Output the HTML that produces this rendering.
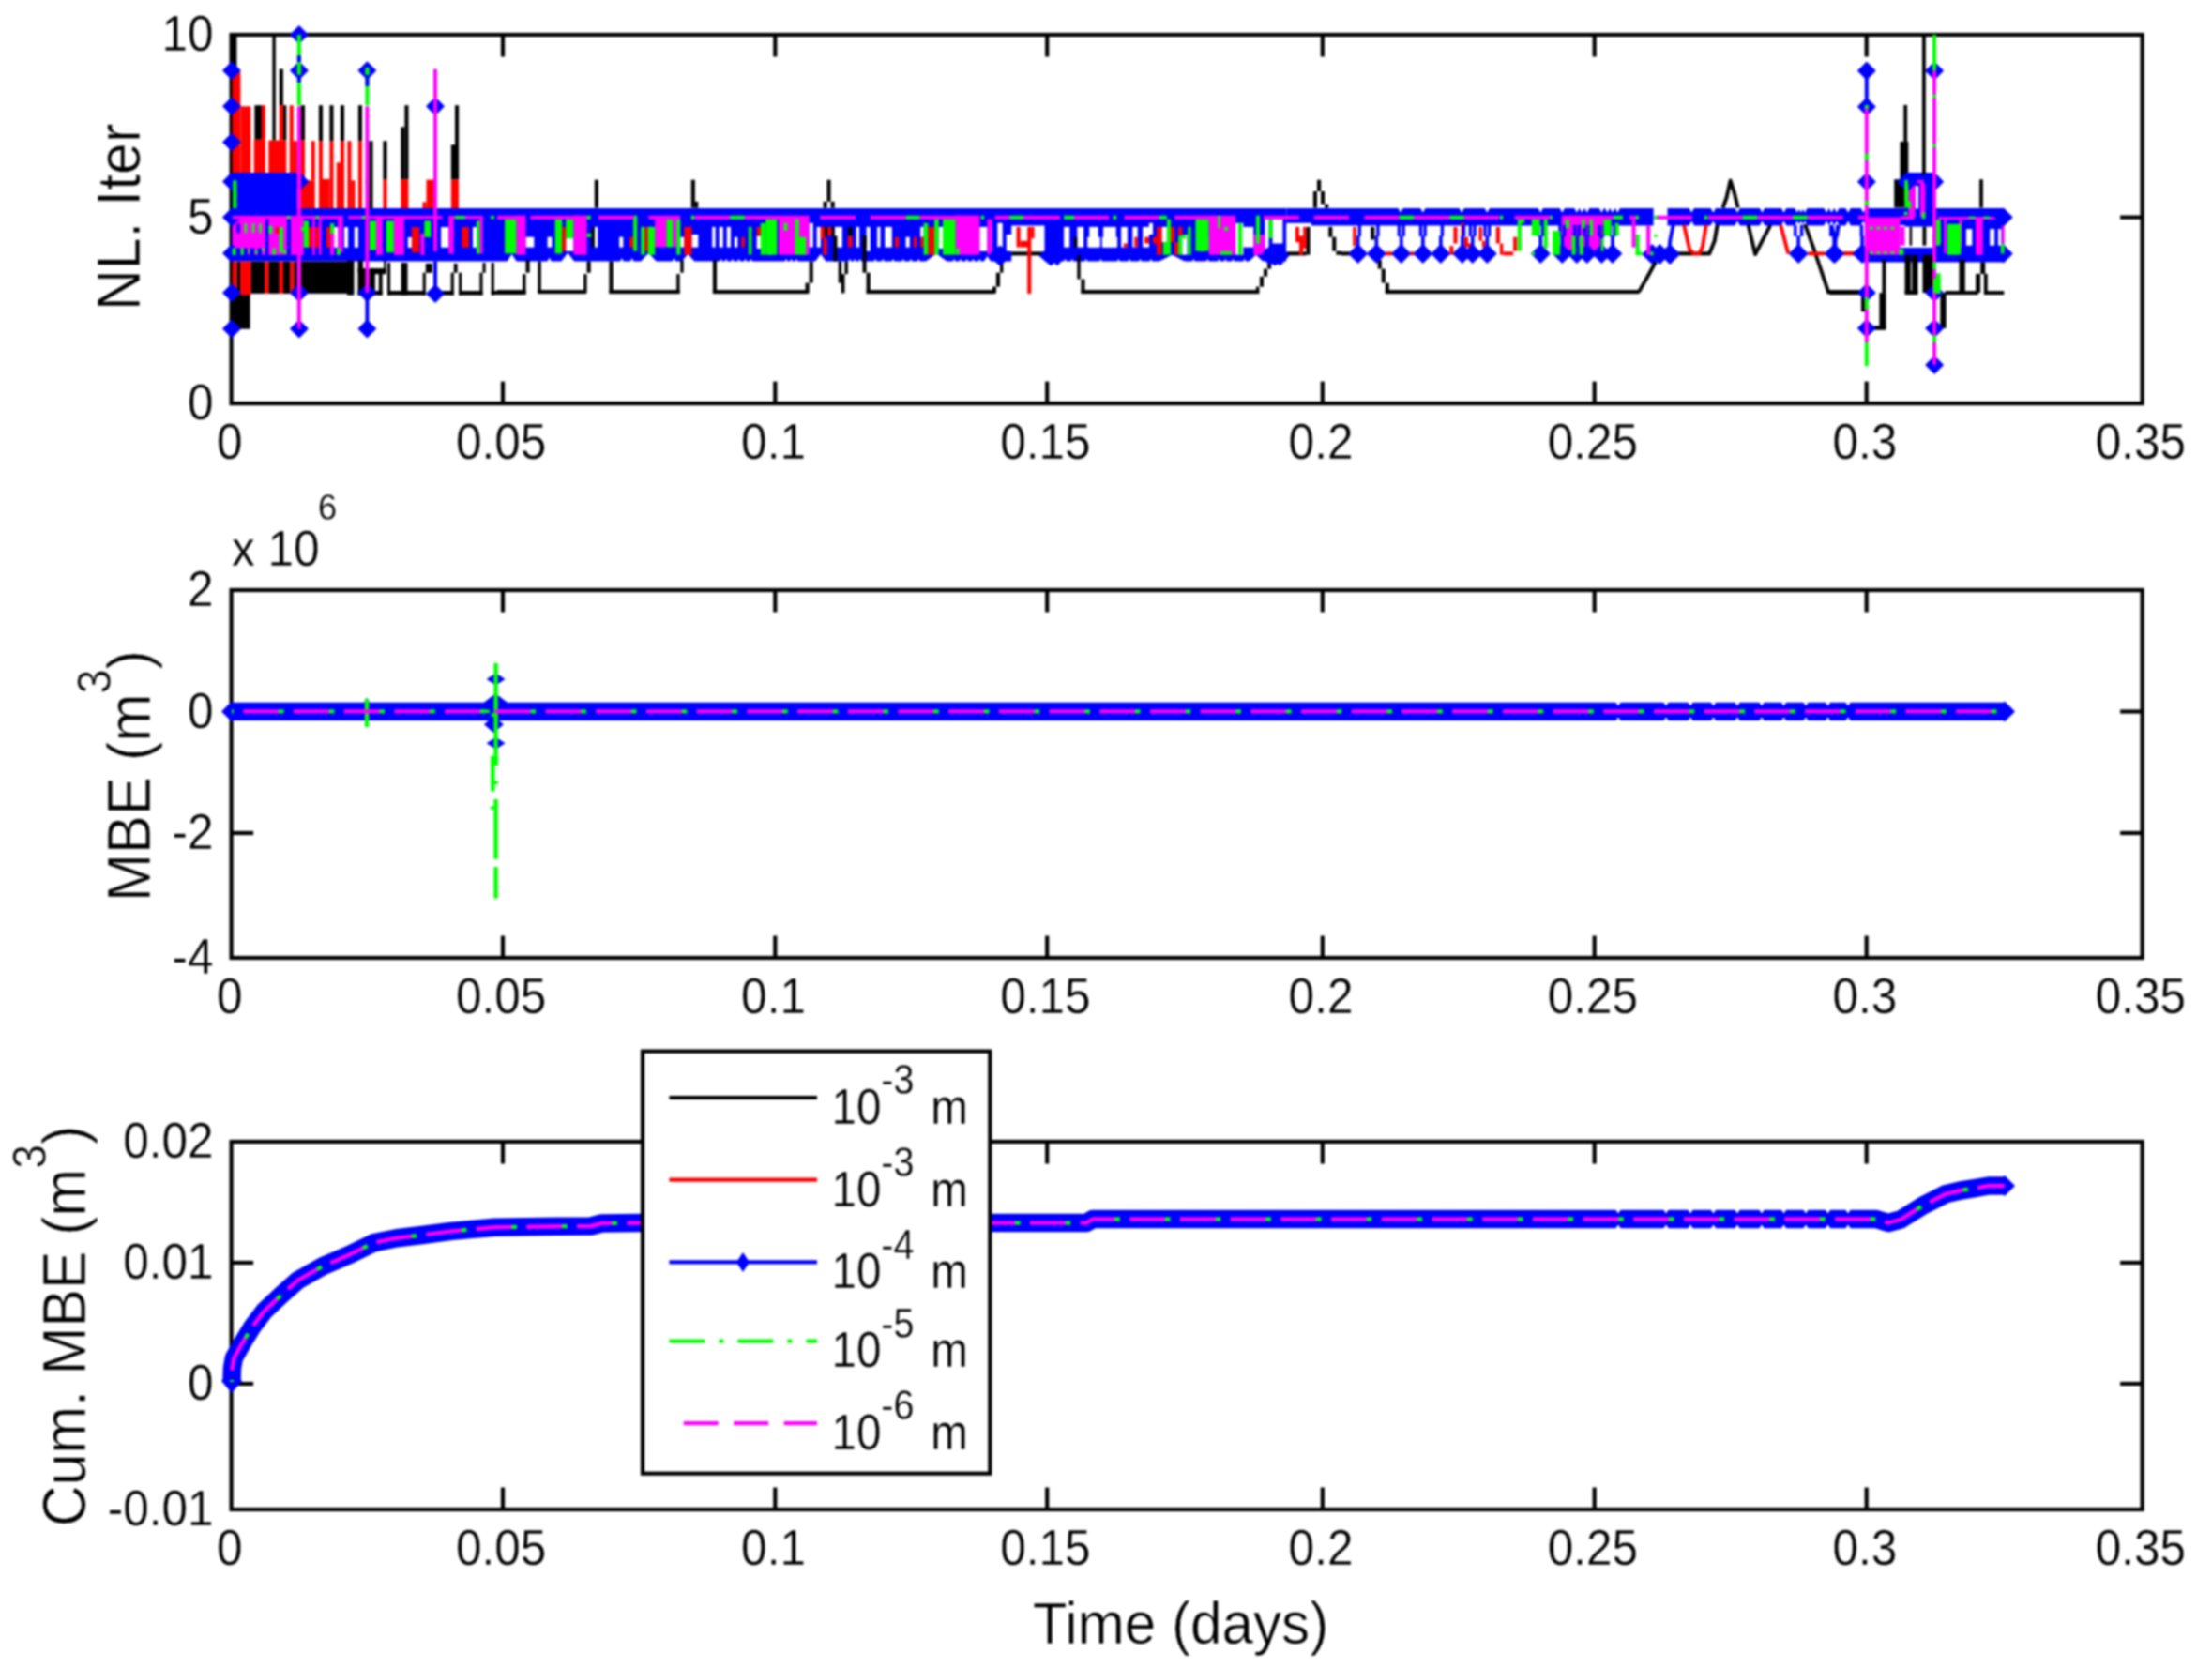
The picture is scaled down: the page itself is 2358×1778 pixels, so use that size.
<!DOCTYPE html>
<html><head><meta charset="utf-8"><title>NL iterations and mass balance error</title>
<style>
html,body{margin:0;padding:0;background:#fff;}
body{width:2358px;height:1778px;overflow:hidden;}
svg{display:block;font-family:"Liberation Sans",sans-serif;fill:#000;filter:blur(0.9px);}
text{stroke:#fff;stroke-width:0.3px;}
text.big{stroke-width:0.6px;}
</style></head><body>
<svg width="2358" height="1778" viewBox="0 0 2358 1778">
<rect x="0" y="0" width="2358" height="1778" fill="#fff"/>
<rect x="246.6" y="37" width="2037" height="393.1" fill="none" stroke="#000" stroke-width="4.2"/>
<text transform="translate(244.8,488.5) scale(0.98,1.06)" font-size="50.5" text-anchor="middle">0</text>
<line x1="536" y1="430.1" x2="536" y2="406.6" stroke="#000" stroke-width="4.2"/>
<line x1="536" y1="37" x2="536" y2="60.5" stroke="#000" stroke-width="4.2"/>
<text transform="translate(534.2,488.5) scale(0.98,1.06)" font-size="50.5" text-anchor="middle">0.05</text>
<line x1="826.3" y1="430.1" x2="826.3" y2="406.6" stroke="#000" stroke-width="4.2"/>
<line x1="826.3" y1="37" x2="826.3" y2="60.5" stroke="#000" stroke-width="4.2"/>
<text transform="translate(824.5,488.5) scale(0.98,1.06)" font-size="50.5" text-anchor="middle">0.1</text>
<line x1="1116.2" y1="430.1" x2="1116.2" y2="406.6" stroke="#000" stroke-width="4.2"/>
<line x1="1116.2" y1="37" x2="1116.2" y2="60.5" stroke="#000" stroke-width="4.2"/>
<text transform="translate(1114.4,488.5) scale(0.98,1.06)" font-size="50.5" text-anchor="middle">0.15</text>
<line x1="1409.8" y1="430.1" x2="1409.8" y2="406.6" stroke="#000" stroke-width="4.2"/>
<line x1="1409.8" y1="37" x2="1409.8" y2="60.5" stroke="#000" stroke-width="4.2"/>
<text transform="translate(1408,488.5) scale(0.98,1.06)" font-size="50.5" text-anchor="middle">0.2</text>
<line x1="1699.7" y1="430.1" x2="1699.7" y2="406.6" stroke="#000" stroke-width="4.2"/>
<line x1="1699.7" y1="37" x2="1699.7" y2="60.5" stroke="#000" stroke-width="4.2"/>
<text transform="translate(1697.9,488.5) scale(0.98,1.06)" font-size="50.5" text-anchor="middle">0.25</text>
<line x1="1989.7" y1="430.1" x2="1989.7" y2="406.6" stroke="#000" stroke-width="4.2"/>
<line x1="1989.7" y1="37" x2="1989.7" y2="60.5" stroke="#000" stroke-width="4.2"/>
<text transform="translate(1987.9,488.5) scale(0.98,1.06)" font-size="50.5" text-anchor="middle">0.3</text>
<text transform="translate(2281.8,488.5) scale(0.98,1.06)" font-size="50.5" text-anchor="middle">0.35</text>
<text transform="translate(227.5,54) scale(0.98,1.06)" font-size="50.5" text-anchor="end">10</text>
<line x1="246.6" y1="231.6" x2="270.1" y2="231.6" stroke="#000" stroke-width="4.2"/>
<line x1="2283.6" y1="231.6" x2="2260.1" y2="231.6" stroke="#000" stroke-width="4.2"/>
<text transform="translate(227.5,248.6) scale(0.98,1.06)" font-size="50.5" text-anchor="end">5</text>
<text transform="translate(227.5,447.1) scale(0.98,1.06)" font-size="50.5" text-anchor="end">0</text>
<g id="ax1">
<g class="base">
<rect x="247" y="222" width="1124.4" height="56.5" fill="#00f"/>
<rect x="1371.4" y="222" width="618.6" height="18.5" fill="#00f"/>
<rect x="1990" y="222" width="146" height="18" fill="#00f"/>
<rect x="1985" y="264" width="151" height="15.5" fill="#00f"/>
<rect x="2060" y="239" width="76" height="26" fill="#00f"/>
<rect x="2030.6" y="184" width="32.7" height="58" fill="#00f"/>
<rect x="247.6" y="184" width="69.2" height="45" fill="#00f"/>
</g>
<g class="hole">
<rect x="356.1" y="242.1" width="4.1" height="21.7" fill="#fff"/>
<rect x="367" y="242.1" width="4.1" height="21.7" fill="#fff"/>
<rect x="377.8" y="242.1" width="4.1" height="21.7" fill="#fff"/>
<rect x="434.8" y="253" width="4.1" height="10.9" fill="#fff"/>
<rect x="470.1" y="242.1" width="8.1" height="21.7" fill="#fff"/>
<rect x="504" y="242.1" width="4.1" height="21.7" fill="#fff"/>
<rect x="544.9" y="256.8" width="5.4" height="8.1" fill="#fff"/>
<rect x="560.5" y="252.7" width="8.8" height="10.9" fill="#fff"/>
<rect x="583.6" y="252.7" width="4.7" height="10.9" fill="#fff"/>
<rect x="603.2" y="254.1" width="8.1" height="13.6" fill="#fff"/>
<rect x="633.8" y="241.9" width="3.4" height="21.7" fill="#fff"/>
<rect x="660.2" y="252.7" width="4.1" height="10.9" fill="#fff"/>
<rect x="690.7" y="241.9" width="4.1" height="6.8" fill="#fff"/>
<rect x="725.3" y="252.7" width="4.1" height="10.9" fill="#fff"/>
<rect x="737.5" y="250" width="6.8" height="13.6" fill="#fff"/>
<rect x="759.2" y="241.9" width="3.4" height="21.7" fill="#fff"/>
<rect x="766.7" y="241.9" width="4.1" height="21.7" fill="#fff"/>
<rect x="774.8" y="241.9" width="4.1" height="21.7" fill="#fff"/>
<rect x="782.9" y="252.7" width="3.4" height="10.9" fill="#fff"/>
<rect x="806.7" y="251.4" width="9.5" height="13.6" fill="#fff"/>
<rect x="818.9" y="254.1" width="4.1" height="17.6" fill="#fff"/>
<polygon points="540.2,279.2 551,279.2 545.6,271" fill="#fff"/>
<polygon points="583.2,279.2 588,279.2 585.6,274.4" fill="#fff"/>
<polygon points="597.8,279.2 612.7,279.2 605.3,269.7" fill="#fff"/>
<polygon points="660.9,279.2 665,279.2 662.9,275.1" fill="#fff"/>
<polygon points="671.7,279.2 675.8,279.2 673.8,275.1" fill="#fff"/>
<polygon points="682.6,279.2 700.2,279.2 691.4,269.7" fill="#fff"/>
<polygon points="716.5,279.2 720.6,279.2 718.5,275.1" fill="#fff"/>
<polygon points="726,279.2 740.9,279.2 733.4,271" fill="#fff"/>
<polygon points="767.1,279.2 770.3,279.2 768.7,275.8" fill="#fff"/>
<polygon points="772.5,279.2 775.8,279.2 774.1,275.8" fill="#fff"/>
<polygon points="779.3,279.2 782.5,279.2 780.9,275.8" fill="#fff"/>
<polygon points="786.1,279.2 789.3,279.2 787.7,275.8" fill="#fff"/>
<polygon points="792.9,279.2 796.1,279.2 794.5,275.8" fill="#fff"/>
<polygon points="799,279.2 802.2,279.2 800.6,275.8" fill="#fff"/>
<rect x="1078.2" y="240.5" width="35.3" height="39.3" fill="#fff"/>
<rect x="853.7" y="252.7" width="3.4" height="12.2" fill="#fff"/>
<rect x="862.6" y="237.8" width="4.1" height="25.8" fill="#fff"/>
<rect x="870.7" y="241.9" width="4.1" height="21.7" fill="#fff"/>
<rect x="889.7" y="241.9" width="8.1" height="21.7" fill="#fff"/>
<rect x="912.7" y="241.9" width="3.4" height="21.7" fill="#fff"/>
<rect x="923.6" y="241.9" width="4.1" height="25.8" fill="#fff"/>
<rect x="935.1" y="241.9" width="3.4" height="21.7" fill="#fff"/>
<rect x="943.3" y="241.9" width="7.5" height="21.7" fill="#fff"/>
<rect x="965.6" y="252.7" width="4.1" height="10.9" fill="#fff"/>
<rect x="981.2" y="241.9" width="3.4" height="10.9" fill="#fff"/>
<rect x="992.1" y="251.4" width="2.7" height="13.6" fill="#fff"/>
<rect x="1000.9" y="241.9" width="4.1" height="23.1" fill="#fff"/>
<rect x="1009" y="251.4" width="3.4" height="13.6" fill="#fff"/>
<rect x="1044.3" y="241.9" width="8.1" height="25.8" fill="#fff"/>
<rect x="1055.1" y="241.9" width="2.7" height="23.1" fill="#fff"/>
<rect x="1063.3" y="237.8" width="5.4" height="25.8" fill="#fff"/>
<rect x="1072.8" y="250" width="10.9" height="17.6" fill="#fff"/>
<polygon points="836.5,279.2 839.8,279.2 838.1,275.8" fill="#fff"/>
<polygon points="841.9,279.2 845.2,279.2 843.6,275.8" fill="#fff"/>
<polygon points="847.4,279.2 850.6,279.2 849,275.8" fill="#fff"/>
<polygon points="868.7,279.2 880.9,279.2 874.8,271" fill="#fff"/>
<polygon points="904.3,279.2 907.6,279.2 906,275.8" fill="#fff"/>
<polygon points="909.8,279.2 913,279.2 911.4,275.8" fill="#fff"/>
<polygon points="915.2,279.2 918.4,279.2 916.8,275.8" fill="#fff"/>
<polygon points="931.5,279.2 934.7,279.2 933.1,275.8" fill="#fff"/>
<polygon points="939.6,279.2 942.8,279.2 941.2,275.8" fill="#fff"/>
<polygon points="950.4,279.2 953.7,279.2 952.1,275.8" fill="#fff"/>
<polygon points="961.3,279.2 964.5,279.2 962.9,275.8" fill="#fff"/>
<polygon points="969.4,279.2 972.7,279.2 971.1,275.8" fill="#fff"/>
<polygon points="977.6,279.2 980.8,279.2 979.2,275.8" fill="#fff"/>
<polygon points="986,279.2 1010.4,279.2 998.2,270.4" fill="#fff"/>
<polygon points="1015.5,279.2 1018.8,279.2 1017.2,275.8" fill="#fff"/>
<polygon points="1022.3,279.2 1025.6,279.2 1024,275.8" fill="#fff"/>
<polygon points="1029.1,279.2 1032.4,279.2 1030.7,275.8" fill="#fff"/>
<polygon points="1035.9,279.2 1039.1,279.2 1037.5,275.8" fill="#fff"/>
<polygon points="1042.7,279.2 1045.9,279.2 1044.3,275.8" fill="#fff"/>
<polygon points="1048.4,279.2 1056.5,279.2 1052.4,273.1" fill="#fff"/>
<rect x="1371.4" y="237.8" width="26.4" height="42" fill="#fff"/>
<rect x="1134.1" y="241.9" width="6.1" height="21.7" fill="#fff"/>
<rect x="1148.3" y="241.9" width="6.8" height="21.7" fill="#fff"/>
<rect x="1161.2" y="241.9" width="9.5" height="21.7" fill="#fff"/>
<rect x="1176.1" y="241.9" width="13.6" height="21.7" fill="#fff"/>
<rect x="1195.1" y="241.9" width="6.8" height="21.7" fill="#fff"/>
<rect x="1207.3" y="241.9" width="5.4" height="21.7" fill="#fff"/>
<rect x="1218.2" y="241.9" width="6.8" height="21.7" fill="#fff"/>
<rect x="1159.2" y="252.7" width="13.6" height="10.9" fill="#fff"/>
<rect x="1174.8" y="252.7" width="16.3" height="10.9" fill="#fff"/>
<rect x="1224.9" y="237.8" width="4.1" height="12.2" fill="#fff"/>
<rect x="1238.5" y="241.9" width="5.4" height="16.3" fill="#fff"/>
<rect x="1260.2" y="250" width="5.4" height="21.7" fill="#fff"/>
<rect x="1277.8" y="250" width="6.8" height="17.6" fill="#fff"/>
<rect x="1288.7" y="252.7" width="5.4" height="10.9" fill="#fff"/>
<rect x="1317.2" y="237.8" width="8.1" height="33.9" fill="#fff"/>
<rect x="1325.3" y="241.9" width="10.9" height="21.7" fill="#fff"/>
<rect x="1348.4" y="233.7" width="4.1" height="31.2" fill="#fff"/>
<rect x="1356.5" y="233.7" width="10.9" height="25.8" fill="#fff"/>
<polygon points="1133.8,279.2 1137.1,279.2 1135.4,275.8" fill="#fff"/>
<polygon points="1141.3,279.2 1144.5,279.2 1142.9,275.8" fill="#fff"/>
<polygon points="1156.2,279.2 1159.4,279.2 1157.8,275.8" fill="#fff"/>
<polygon points="1171.8,279.2 1175,279.2 1173.4,275.8" fill="#fff"/>
<polygon points="1190.8,279.2 1194,279.2 1192.4,275.8" fill="#fff"/>
<polygon points="1202.3,279.2 1205.5,279.2 1203.9,275.8" fill="#fff"/>
<polygon points="1213.8,279.2 1217.1,279.2 1215.4,275.8" fill="#fff"/>
<polygon points="1225.3,279.2 1228.6,279.2 1227,275.8" fill="#fff"/>
<polygon points="1234.4,279.2 1264.3,279.2 1249.4,271.7" fill="#fff"/>
<polygon points="1270.8,279.2 1274,279.2 1272.4,275.8" fill="#fff"/>
<polygon points="1285.7,279.2 1289,279.2 1287.3,275.8" fill="#fff"/>
<polygon points="1297.9,279.2 1301.2,279.2 1299.5,275.8" fill="#fff"/>
<polygon points="1304.7,279.2 1307.9,279.2 1306.3,275.8" fill="#fff"/>
<polygon points="1312.8,279.2 1316.1,279.2 1314.5,275.8" fill="#fff"/>
<polygon points="1325,279.2 1328.3,279.2 1326.7,275.8" fill="#fff"/>
<polygon points="1330.7,279.2 1347,279.2 1338.9,271.7" fill="#fff"/>
<polygon points="1489.8,220.7 1496.3,220.7 1493.1,226.7" fill="#fff"/>
<polygon points="1513.5,220.7 1520.1,220.7 1516.8,226.7" fill="#fff"/>
<polygon points="1554.9,220.7 1561.4,220.7 1558.2,226.7" fill="#fff"/>
<polygon points="1582,220.7 1588.6,220.7 1585.3,226.7" fill="#fff"/>
<polygon points="1639,220.7 1645.5,220.7 1642.3,226.7" fill="#fff"/>
<polygon points="1662.1,220.7 1668.6,220.7 1665.3,226.7" fill="#fff"/>
<polygon points="1677.7,220.7 1684.2,220.7 1680.9,226.7" fill="#fff"/>
<polygon points="1683.1,220.7 1689.6,220.7 1686.3,226.7" fill="#fff"/>
<polygon points="1688.5,220.7 1695,220.7 1691.8,226.7" fill="#fff"/>
<polygon points="1704.1,220.7 1710.6,220.7 1707.4,226.7" fill="#fff"/>
<polygon points="1710.2,220.7 1716.7,220.7 1713.5,226.7" fill="#fff"/>
<polygon points="1715.6,220.7 1722.1,220.7 1718.9,226.7" fill="#fff"/>
<polygon points="1721.1,220.7 1727.6,220.7 1724.3,226.7" fill="#fff"/>
<rect x="1657.9" y="251.4" width="2.7" height="13.6" fill="#fff"/>
<rect x="1672.8" y="243.2" width="5.4" height="8.1" fill="#fff"/>
<rect x="1693.1" y="251.4" width="4.1" height="13.6" fill="#fff"/>
<rect x="1762.6" y="220.2" width="14.9" height="21.7" fill="#fff"/>
<polygon points="1800,220.7 1806.5,220.7 1803.2,226.7" fill="#fff"/>
<polygon points="1800,241.6 1806.5,241.6 1803.2,235.6" fill="#fff"/>
<polygon points="1823,220.7 1829.6,220.7 1826.3,226.7" fill="#fff"/>
<polygon points="1823,241.6 1829.6,241.6 1826.3,235.6" fill="#fff"/>
<polygon points="1848.8,220.7 1855.3,220.7 1852.1,226.7" fill="#fff"/>
<polygon points="1848.8,241.6 1855.3,241.6 1852.1,235.6" fill="#fff"/>
<polygon points="1875.3,220.7 1881.8,220.7 1878.5,226.7" fill="#fff"/>
<polygon points="1875.3,241.6 1881.8,241.6 1878.5,235.6" fill="#fff"/>
<polygon points="1898.3,220.7 1904.8,220.7 1901.6,226.7" fill="#fff"/>
<polygon points="1898.3,241.6 1904.8,241.6 1901.6,235.6" fill="#fff"/>
<polygon points="1912.6,220.7 1919.1,220.7 1915.8,226.7" fill="#fff"/>
<polygon points="1912.6,241.6 1919.1,241.6 1915.8,235.6" fill="#fff"/>
<polygon points="1916.6,220.7 1923.1,220.7 1919.9,226.7" fill="#fff"/>
<polygon points="1916.6,241.6 1923.1,241.6 1919.9,235.6" fill="#fff"/>
<polygon points="1920.7,220.7 1927.2,220.7 1924,226.7" fill="#fff"/>
<polygon points="1920.7,241.6 1927.2,241.6 1924,235.6" fill="#fff"/>
<polygon points="1943.8,220.7 1950.3,220.7 1947,226.7" fill="#fff"/>
<polygon points="1943.8,241.6 1950.3,241.6 1947,235.6" fill="#fff"/>
<polygon points="1949.2,220.7 1955.7,220.7 1952.4,226.7" fill="#fff"/>
<polygon points="1949.2,241.6 1955.7,241.6 1952.4,235.6" fill="#fff"/>
<polygon points="1954.6,220.7 1961.1,220.7 1957.9,226.7" fill="#fff"/>
<polygon points="1954.6,241.6 1961.1,241.6 1957.9,235.6" fill="#fff"/>
<polygon points="1966.8,220.7 1973.3,220.7 1970.1,226.7" fill="#fff"/>
<polygon points="1966.8,241.6 1973.3,241.6 1970.1,235.6" fill="#fff"/>
<polygon points="1983.1,220.7 1989.6,220.7 1986.3,226.7" fill="#fff"/>
<polygon points="1983.1,241.6 1989.6,241.6 1986.3,235.6" fill="#fff"/>
<rect x="2030.6" y="241.6" width="30.2" height="20.1" fill="#fff"/>
<rect x="2096" y="244.1" width="6.3" height="17.6" fill="#fff"/>
<rect x="2121.2" y="244.1" width="5" height="17.6" fill="#fff"/>
<rect x="2130" y="244.1" width="3.3" height="17.6" fill="#fff"/>
<rect x="2136.8" y="241.6" width="5.8" height="20.1" fill="#fff"/>
<rect x="2041.8" y="198.1" width="3.3" height="24.4" fill="#fff"/>
</g>
<g class="k">
<rect x="247" y="37" width="5.4" height="147.2" fill="#000"/>
<rect x="271.4" y="112.2" width="7.5" height="36.6" fill="#000"/>
<rect x="290.4" y="37" width="3.4" height="112.6" fill="#000"/>
<rect x="297.8" y="73.6" width="4.1" height="38.7" fill="#000"/>
<rect x="301.9" y="112.2" width="3.4" height="37.3" fill="#000"/>
<rect x="320.9" y="112.2" width="4.1" height="37.3" fill="#000"/>
<rect x="339.9" y="112.2" width="4.1" height="38" fill="#000"/>
<rect x="351.4" y="112.2" width="4.1" height="38" fill="#000"/>
<rect x="362.9" y="112.2" width="4.1" height="38" fill="#000"/>
<rect x="381.9" y="112.2" width="4.1" height="38" fill="#000"/>
<rect x="393.4" y="150.2" width="4.1" height="71.9" fill="#000"/>
<rect x="408.4" y="150.2" width="4.1" height="41.4" fill="#000"/>
<rect x="427.3" y="135.3" width="4.1" height="56.3" fill="#000"/>
<rect x="431.4" y="112.2" width="4.1" height="79.3" fill="#000"/>
<rect x="480.9" y="154.3" width="4.1" height="37.3" fill="#000"/>
<rect x="485" y="112.2" width="4.1" height="79.3" fill="#000"/>
<rect x="252.4" y="278.7" width="4.1" height="34.2" fill="#000"/>
<rect x="267.3" y="278.7" width="14.9" height="34.2" fill="#000"/>
<rect x="286.3" y="278.7" width="11.5" height="34.2" fill="#000"/>
<rect x="301.9" y="278.7" width="7.5" height="34.2" fill="#000"/>
<rect x="313.4" y="278.7" width="3.4" height="34.2" fill="#000"/>
<rect x="320.9" y="278.7" width="56.3" height="34.2" fill="#000"/>
<rect x="246.3" y="312.7" width="20.3" height="38" fill="#000"/>
<rect x="370" y="277.7" width="7.3" height="36.9" fill="#000"/>
<rect x="381.5" y="277.7" width="5.4" height="13.1" fill="#000"/>
<rect x="381.5" y="286.1" width="8.5" height="28.4" fill="#000"/>
<rect x="393.4" y="286.1" width="6.5" height="28.4" fill="#000"/>
<rect x="395.4" y="286.1" width="16.1" height="6.1" fill="#000"/>
<rect x="403.8" y="290.7" width="3.8" height="23.8" fill="#000"/>
<rect x="381.5" y="310" width="26.1" height="4.6" fill="#000"/>
<rect x="409.2" y="277.7" width="2.3" height="13.1" fill="#000"/>
<rect x="413" y="280" width="3.1" height="34.6" fill="#000"/>
<rect x="413" y="310" width="40.7" height="4.6" fill="#000"/>
<rect x="427.6" y="280" width="6.9" height="34.6" fill="#000"/>
<rect x="450.7" y="290.7" width="3.1" height="23.8" fill="#000"/>
<rect x="453.8" y="280.8" width="6.9" height="10" fill="#000"/>
<rect x="469.9" y="310" width="13.8" height="4.6" fill="#000"/>
<rect x="480.7" y="290.7" width="3.1" height="23.8" fill="#000"/>
<rect x="483.8" y="280.8" width="3.8" height="10" fill="#000"/>
<rect x="489.1" y="290.7" width="3.1" height="23.8" fill="#000"/>
<rect x="489.1" y="310" width="25.4" height="4.6" fill="#000"/>
<rect x="511.4" y="290.7" width="3.1" height="23.8" fill="#000"/>
<rect x="514.5" y="280" width="3.1" height="10.8" fill="#000"/>
<rect x="523.7" y="280" width="3.1" height="34.6" fill="#000"/>
<rect x="523.7" y="309.9" width="36.8" height="4.2" fill="#000"/>
<rect x="633.8" y="191.7" width="4.1" height="29.8" fill="#000"/>
<rect x="736.8" y="191.7" width="4.1" height="29.8" fill="#000"/>
<rect x="740.9" y="214.8" width="3.4" height="6.8" fill="#000"/>
<rect x="530" y="309" width="30.5" height="4.1" fill="#000"/>
<rect x="557.1" y="292.1" width="3.4" height="20.3" fill="#000"/>
<rect x="560.5" y="277.1" width="4.1" height="13.6" fill="#000"/>
<rect x="573.4" y="278.5" width="3.4" height="33.9" fill="#000"/>
<rect x="573.4" y="309" width="51.5" height="4.1" fill="#000"/>
<rect x="622.2" y="292.1" width="3.4" height="20.3" fill="#000"/>
<rect x="625.6" y="278.5" width="4.1" height="12.2" fill="#000"/>
<rect x="649.4" y="278.5" width="4.1" height="33.9" fill="#000"/>
<rect x="649.4" y="309" width="75.3" height="4.1" fill="#000"/>
<rect x="721.2" y="292.1" width="3.4" height="20.3" fill="#000"/>
<rect x="725.3" y="277.1" width="3.4" height="13.6" fill="#000"/>
<rect x="759.9" y="277.1" width="4.1" height="35.3" fill="#000"/>
<rect x="759.9" y="309" width="70.1" height="4.1" fill="#000"/>
<rect x="630.4" y="241.9" width="3.4" height="21.7" fill="#000"/>
<rect x="881.5" y="191.7" width="4.1" height="23.1" fill="#000"/>
<rect x="877.5" y="214.8" width="4.1" height="6.8" fill="#000"/>
<rect x="885.6" y="214.8" width="4.1" height="6.8" fill="#000"/>
<rect x="830" y="309" width="31.9" height="4.1" fill="#000"/>
<rect x="858.5" y="301.6" width="4.1" height="10.9" fill="#000"/>
<rect x="862.6" y="278.5" width="4.1" height="23.1" fill="#000"/>
<rect x="888.3" y="251.4" width="4.1" height="27.1" fill="#000"/>
<rect x="893.7" y="278.5" width="3.4" height="23.1" fill="#000"/>
<rect x="896.7" y="292.1" width="3.8" height="20.3" fill="#000"/>
<rect x="900.5" y="278.5" width="3.4" height="13.6" fill="#000"/>
<rect x="919.5" y="251.4" width="4.1" height="39.3" fill="#000"/>
<rect x="923.6" y="290.7" width="4.1" height="21.7" fill="#000"/>
<rect x="923.6" y="309" width="137" height="4.1" fill="#000"/>
<rect x="1057.9" y="305.6" width="4.1" height="6.8" fill="#000"/>
<rect x="1061.9" y="290.7" width="4.1" height="14.9" fill="#000"/>
<rect x="1066" y="278.5" width="3.4" height="12.2" fill="#000"/>
<rect x="878.8" y="241.9" width="3.4" height="9.5" fill="#000"/>
<rect x="886.3" y="241.9" width="3.4" height="9.5" fill="#000"/>
<rect x="903.9" y="241.9" width="4.7" height="9.5" fill="#000"/>
<rect x="919.5" y="251.4" width="4.1" height="12.2" fill="#000"/>
<rect x="1078.2" y="268.3" width="35.3" height="4.1" fill="#000"/>
<rect x="1148.3" y="271.7" width="3.4" height="25.8" fill="#000"/>
<rect x="1152.4" y="297.5" width="4.1" height="14.9" fill="#000"/>
<rect x="1152.4" y="309" width="189.9" height="4.1" fill="#000"/>
<rect x="1338.9" y="305.6" width="3.4" height="6.8" fill="#000"/>
<rect x="1342.9" y="294.8" width="4.1" height="10.9" fill="#000"/>
<rect x="1347" y="286.6" width="4.1" height="8.1" fill="#000"/>
<rect x="1351.1" y="277.1" width="4.1" height="9.5" fill="#000"/>
<rect x="1404" y="191.7" width="4.1" height="12.2" fill="#000"/>
<rect x="1399.9" y="203.9" width="4.1" height="17.6" fill="#000"/>
<rect x="1408" y="203.9" width="4.1" height="13.6" fill="#000"/>
<rect x="1412.1" y="217.5" width="4.1" height="4.1" fill="#000"/>
<rect x="1416.2" y="241.9" width="4.1" height="10.9" fill="#000"/>
<rect x="1420.2" y="252.7" width="4.1" height="14.9" fill="#000"/>
<rect x="1424.3" y="267.7" width="5.7" height="4.1" fill="#000"/>
<rect x="1144.9" y="252.7" width="3.4" height="10.9" fill="#000"/>
<rect x="1371.4" y="268.3" width="21" height="4.1" fill="#000"/>
<rect x="1392.4" y="241.9" width="4.1" height="29.8" fill="#000"/>
<rect x="1430" y="268.3" width="9.5" height="4.1" fill="#000"/>
<rect x="1461.2" y="241.9" width="4.1" height="13.6" fill="#000"/>
<rect x="1468.7" y="277.1" width="4.1" height="9.5" fill="#000"/>
<rect x="1472.7" y="286.6" width="4.1" height="14.9" fill="#000"/>
<rect x="1476.8" y="301.6" width="4.1" height="10.9" fill="#000"/>
<rect x="1476.8" y="309" width="253.2" height="4.1" fill="#000"/>
<rect x="1730" y="309" width="17.6" height="4.1" fill="#000"/>
<polyline points="1747,311.1 1756.4,294.8 1765.3,278.5" fill="none" stroke-linejoin="round" stroke="#000" stroke-width="3.9"/>
<rect x="1788.3" y="268.3" width="35.3" height="4.1" fill="#000"/>
<polyline points="1822.2,270.4 1827.7,256.8 1830.6,239.8" fill="none" stroke-linejoin="round" stroke="#000" stroke-width="3.9"/>
<polyline points="1836.5,221.5 1840.5,210.7 1844.6,192.4 1848.7,205.3 1852.7,221.5" fill="none" stroke-linejoin="round" stroke="#000" stroke-width="3.9"/>
<polyline points="1863.6,239.8 1871.1,271 1887.3,239.8" fill="none" stroke-linejoin="round" stroke="#000" stroke-width="3.9"/>
<polyline points="1924,239.2 1933.4,264.9 1949,311.1" fill="none" stroke-linejoin="round" stroke="#000" stroke-width="3.9"/>
<rect x="1947" y="309" width="36.6" height="4.1" fill="#000"/>
<rect x="2049" y="36.9" width="3.8" height="149.3" fill="#000"/>
<rect x="2029.3" y="111.9" width="3.8" height="39" fill="#000"/>
<rect x="2025.5" y="150.9" width="8.8" height="40.3" fill="#000"/>
<rect x="2019.2" y="191.2" width="11.3" height="30.2" fill="#000"/>
<rect x="2110.1" y="191.2" width="3.8" height="30.2" fill="#000"/>
<rect x="1950" y="310.1" width="35.3" height="4" fill="#000"/>
<rect x="1984" y="312.1" width="6.3" height="20.1" fill="#000"/>
<rect x="2006.4" y="276.8" width="4" height="35.3" fill="#000"/>
<rect x="2003.4" y="312.1" width="7.1" height="37.8" fill="#000"/>
<rect x="1997.8" y="347.3" width="12.6" height="4.5" fill="#000"/>
<rect x="2030.6" y="271.8" width="6.3" height="40.3" fill="#000"/>
<rect x="2038.1" y="271.8" width="6.3" height="40.3" fill="#000"/>
<rect x="2030.6" y="309.6" width="13.8" height="4.5" fill="#000"/>
<rect x="2049.5" y="271.8" width="11.3" height="40.3" fill="#000"/>
<rect x="2068.3" y="312.1" width="6.3" height="37.8" fill="#000"/>
<rect x="2073.4" y="310.1" width="35.3" height="4" fill="#000"/>
<rect x="2088.5" y="276.8" width="6.3" height="35.3" fill="#000"/>
<rect x="2106.1" y="291.9" width="5" height="20.1" fill="#000"/>
<rect x="2111.2" y="279.4" width="5" height="12.6" fill="#000"/>
<rect x="2114.9" y="291.9" width="3.8" height="20.1" fill="#000"/>
<rect x="2114.9" y="310.1" width="21.4" height="4" fill="#000"/>
<rect x="2035.6" y="241.6" width="2.5" height="20.1" fill="#000"/>
<rect x="2049.5" y="241.6" width="3.8" height="20.1" fill="#000"/>
</g>
<g class="r">
<rect x="247.6" y="77" width="8.8" height="107.1" fill="#f00"/>
<rect x="256.4" y="113.3" width="10.9" height="70.8" fill="#f00"/>
<rect x="270.7" y="148.8" width="12.2" height="35.3" fill="#f00"/>
<rect x="278.8" y="112.2" width="4.1" height="36.6" fill="#f00"/>
<rect x="286.3" y="149.5" width="19" height="34.6" fill="#f00"/>
<rect x="297.8" y="112.2" width="4.1" height="37.3" fill="#f00"/>
<rect x="308.7" y="112.2" width="4.1" height="71.9" fill="#f00"/>
<rect x="312.7" y="150.2" width="4.1" height="33.9" fill="#f00"/>
<rect x="320.9" y="149.5" width="4.1" height="72.6" fill="#f00"/>
<rect x="324.9" y="192.3" width="10.9" height="29.8" fill="#f00"/>
<rect x="331.7" y="150.2" width="4.1" height="42" fill="#f00"/>
<rect x="339.9" y="150.2" width="4.1" height="71.9" fill="#f00"/>
<rect x="343.9" y="190.9" width="7.5" height="31.2" fill="#f00"/>
<rect x="351.4" y="150.2" width="4.1" height="71.9" fill="#f00"/>
<rect x="358.8" y="173.3" width="4.1" height="48.8" fill="#f00"/>
<rect x="362.9" y="150.2" width="4.1" height="71.9" fill="#f00"/>
<rect x="370.4" y="150.2" width="4.1" height="71.9" fill="#f00"/>
<rect x="374.4" y="192.3" width="4.1" height="29.8" fill="#f00"/>
<rect x="381.9" y="150.2" width="4.1" height="71.9" fill="#f00"/>
<rect x="408.4" y="191.6" width="4.1" height="30.5" fill="#f00"/>
<rect x="427.3" y="191.6" width="8.1" height="30.5" fill="#f00"/>
<rect x="450.4" y="215.3" width="4.1" height="6.8" fill="#f00"/>
<rect x="454.5" y="191.6" width="8.1" height="30.5" fill="#f00"/>
<rect x="480.9" y="191.6" width="8.1" height="30.5" fill="#f00"/>
<rect x="247.6" y="278.7" width="4.7" height="34.2" fill="#f00"/>
<rect x="256.4" y="278.7" width="10.9" height="34.2" fill="#f00"/>
<rect x="282.2" y="278.7" width="4.1" height="34.2" fill="#f00"/>
<rect x="297.8" y="278.7" width="4.1" height="34.2" fill="#f00"/>
<rect x="309.3" y="278.7" width="4.1" height="34.2" fill="#f00"/>
<rect x="256.4" y="278.7" width="10.9" height="35.9" fill="#f00"/>
<rect x="1095.2" y="241.9" width="4.1" height="71.2" fill="#f00"/>
<rect x="1380.9" y="241.9" width="4.1" height="16.3" fill="#f00"/>
<rect x="1385" y="251.4" width="4.1" height="20.3" fill="#f00"/>
<rect x="1389.1" y="241.9" width="3.4" height="23.1" fill="#f00"/>
<rect x="1442.2" y="241.9" width="3.4" height="20.3" fill="#f00"/>
<rect x="1476.8" y="268.3" width="7.5" height="4.1" fill="#f00"/>
<rect x="1503.2" y="268.3" width="4.1" height="4.1" fill="#f00"/>
<rect x="1545.3" y="262.2" width="4.1" height="9.5" fill="#f00"/>
<rect x="1549.4" y="241.9" width="4.1" height="17.6" fill="#f00"/>
<rect x="1557.5" y="237.8" width="3.4" height="13.6" fill="#f00"/>
<rect x="1560.9" y="252.7" width="4.1" height="10.9" fill="#f00"/>
<rect x="1565" y="259.5" width="3.4" height="4.1" fill="#f00"/>
<rect x="1576.5" y="241.9" width="3.4" height="14.9" fill="#f00"/>
<rect x="1579.9" y="256.8" width="3.4" height="6.8" fill="#f00"/>
<rect x="1594.8" y="241.9" width="4.1" height="17.6" fill="#f00"/>
<rect x="1598.9" y="259.5" width="3.4" height="12.2" fill="#f00"/>
<rect x="1602.3" y="268.3" width="10.9" height="4.1" fill="#f00"/>
<rect x="1613.1" y="252.7" width="4.1" height="14.9" fill="#f00"/>
<polyline points="1795.1,239.8 1801.2,266.3 1806,270.4 1811.4,270.4 1814.8,263.6 1818.8,239.8" fill="none" stroke-linejoin="round" stroke="#f00" stroke-width="3.9"/>
<polyline points="1898.2,239.8 1906.3,270.4" fill="none" stroke-linejoin="round" stroke="#f00" stroke-width="3.9"/>
<rect x="1927.3" y="268.3" width="18.3" height="4.1" fill="#f00"/>
<rect x="1965.3" y="268.3" width="11.5" height="4.1" fill="#f00"/>
<rect x="1965.1" y="268" width="11.3" height="3.8" fill="#f00"/>
</g>
<g class="mb">
<rect x="247.6" y="229.9" width="35.3" height="42" fill="#f0f"/>
<rect x="286.3" y="229.9" width="19.7" height="42" fill="#f0f"/>
<rect x="310" y="229.9" width="13.6" height="42" fill="#f0f"/>
<rect x="333.1" y="229.9" width="2.7" height="42" fill="#f0f"/>
<rect x="339.9" y="229.9" width="2.7" height="42" fill="#f0f"/>
<rect x="352.1" y="248.9" width="4.1" height="23.1" fill="#f0f"/>
<rect x="360.2" y="229.9" width="5.4" height="39.3" fill="#f0f"/>
<rect x="400.9" y="229.9" width="6.8" height="42" fill="#f0f"/>
<rect x="419.9" y="229.9" width="10.9" height="42" fill="#f0f"/>
<rect x="448.4" y="248.9" width="4.1" height="23.1" fill="#f0f"/>
<rect x="478.2" y="231.3" width="5.4" height="39.3" fill="#f0f"/>
<rect x="511.4" y="231.3" width="3.4" height="39.3" fill="#f0f"/>
<rect x="550.3" y="229.7" width="10.2" height="42" fill="#f0f"/>
<rect x="611.4" y="229.7" width="14.2" height="42" fill="#f0f"/>
<rect x="698.2" y="233.7" width="12.2" height="29.8" fill="#f0f"/>
<rect x="717.2" y="233.7" width="4.1" height="29.8" fill="#f0f"/>
<rect x="830" y="229.7" width="32.6" height="42" fill="#f0f"/>
<rect x="1018.5" y="229.7" width="25.8" height="42" fill="#f0f"/>
<rect x="1052.4" y="233.7" width="5.4" height="38" fill="#f0f"/>
<rect x="1288.7" y="229.7" width="28.5" height="42" fill="#f0f"/>
<rect x="1336.2" y="250" width="12.2" height="21.7" fill="#f0f"/>
<rect x="1664.6" y="229.7" width="44.8" height="42" fill="#f0f"/>
<rect x="1987.8" y="231.5" width="37.8" height="40.3" fill="#f0f"/>
<rect x="2025.5" y="241.6" width="5" height="20.1" fill="#f0f"/>
<rect x="2106.1" y="234" width="7.6" height="37.8" fill="#f0f"/>
<rect x="2035.6" y="193.7" width="3.8" height="37.8" fill="#f0f"/>
<rect x="2046.9" y="193.7" width="3.8" height="37.8" fill="#f0f"/>
<rect x="2033.1" y="192" width="30.2" height="3.3" fill="#f0f"/>
<rect x="2025.5" y="230.3" width="15.1" height="3.8" fill="#f0f"/>
<rect x="2065.8" y="231" width="70.5" height="3" fill="#f0f"/>
<rect x="2133.8" y="234" width="3" height="27.7" fill="#f0f"/>
<rect x="2034.4" y="191.8" width="7.2" height="38.9" fill="#f0f"/>
<rect x="2048.8" y="194.5" width="3.6" height="36.2" fill="#f0f"/>
<rect x="2045.2" y="191.8" width="18.1" height="3.2" fill="#f0f"/>
<rect x="2072.3" y="231.5" width="2.7" height="38.9" fill="#f0f"/>
<rect x="2088.2" y="234.2" width="3.2" height="29.8" fill="#f0f"/>
</g>
<g class="b">
<polygon points="237,350.4 247,340.4 257,350.4 247,360.4" fill="#00f"/>
<polygon points="237,312 247,302 257,312 247,322" fill="#00f"/>
<polygon points="237,270 247,260 257,270 247,280" fill="#00f"/>
<polygon points="237,231.6 247,221.6 257,231.6 247,241.6" fill="#00f"/>
<polygon points="237,193.6 247,183.6 257,193.6 247,203.6" fill="#00f"/>
<polygon points="237,151.6 247,141.6 257,151.6 247,161.6" fill="#00f"/>
<polygon points="237,113.3 247,103.3 257,113.3 247,123.3" fill="#00f"/>
<polygon points="237,75.3 247,65.3 257,75.3 247,85.3" fill="#00f"/>
<polygon points="308.9,37 318.9,27 328.9,37 318.9,47" fill="#00f"/>
<polygon points="308.9,75.3 318.9,65.3 328.9,75.3 318.9,85.3" fill="#00f"/>
<polygon points="308.9,312 318.9,302 328.9,312 318.9,322" fill="#00f"/>
<polygon points="308.9,350.4 318.9,340.4 328.9,350.4 318.9,360.4" fill="#00f"/>
<polygon points="309.5,193.6 319.5,183.6 329.5,193.6 319.5,203.6" fill="#00f"/>
<polygon points="381.4,75.3 391.4,65.3 401.4,75.3 391.4,85.3" fill="#00f"/>
<polygon points="381.4,312 391.4,302 401.4,312 391.4,322" fill="#00f"/>
<polygon points="381.4,350.4 391.4,340.4 401.4,350.4 391.4,360.4" fill="#00f"/>
<polygon points="454,113.3 464,103.3 474,113.3 464,123.3" fill="#00f"/>
<polygon points="454,313 464,303 474,313 464,323" fill="#00f"/>
<rect x="389.4" y="312" width="4" height="38.4" fill="#00f"/>
<rect x="462" y="278.5" width="4" height="34.5" fill="#00f"/>
<polygon points="1053,272.4 1066,261.4 1079,272.4 1066,283.4" fill="#00f"/>
<polygon points="1107.2,272.4 1120.2,261.4 1133.2,272.4 1120.2,283.4" fill="#00f"/>
<polygon points="1117,272.4 1127,261.4 1137,272.4 1127,283.4" fill="#00f"/>
<polygon points="1345.2,272.4 1359.2,261.4 1373.2,272.4 1359.2,283.4" fill="#00f"/>
<polygon points="1343.8,272.4 1353.8,261.4 1363.8,272.4 1353.8,283.4" fill="#00f"/>
<polygon points="1354.6,272.4 1364.6,261.4 1374.6,272.4 1364.6,283.4" fill="#00f"/>
<rect x="1489.7" y="239.8" width="3.4" height="12.2" fill="#00f"/>
<rect x="1494.4" y="239.8" width="3.4" height="12.2" fill="#00f"/>
<rect x="1491.9" y="251.4" width="3.7" height="14.9" fill="#00f"/>
<polygon points="1483.2,270.4 1493.7,259.9 1504.2,270.4 1493.7,280.9" fill="#00f"/>
<rect x="1512.8" y="239.8" width="3.4" height="12.2" fill="#00f"/>
<rect x="1517.4" y="239.8" width="3.4" height="12.2" fill="#00f"/>
<rect x="1515" y="251.4" width="3.7" height="14.9" fill="#00f"/>
<polygon points="1506.3,270.4 1516.8,259.9 1527.3,270.4 1516.8,280.9" fill="#00f"/>
<rect x="1565.7" y="239.8" width="3.4" height="12.2" fill="#00f"/>
<rect x="1570.3" y="239.8" width="3.4" height="12.2" fill="#00f"/>
<rect x="1567.9" y="251.4" width="3.7" height="14.9" fill="#00f"/>
<polygon points="1559.2,270.4 1569.7,259.9 1580.2,270.4 1569.7,280.9" fill="#00f"/>
<rect x="1581.3" y="239.8" width="3.4" height="12.2" fill="#00f"/>
<rect x="1585.9" y="239.8" width="3.4" height="12.2" fill="#00f"/>
<rect x="1583.5" y="251.4" width="3.7" height="14.9" fill="#00f"/>
<polygon points="1574.8,270.4 1585.3,259.9 1595.8,270.4 1585.3,280.9" fill="#00f"/>
<rect x="1638.3" y="239.8" width="3.4" height="12.2" fill="#00f"/>
<rect x="1642.9" y="239.8" width="3.4" height="12.2" fill="#00f"/>
<rect x="1640.4" y="251.4" width="3.7" height="14.9" fill="#00f"/>
<polygon points="1631.8,270.4 1642.3,259.9 1652.8,270.4 1642.3,280.9" fill="#00f"/>
<rect x="1661.3" y="239.8" width="3.4" height="12.2" fill="#00f"/>
<rect x="1665.9" y="239.8" width="3.4" height="12.2" fill="#00f"/>
<rect x="1663.5" y="251.4" width="3.7" height="14.9" fill="#00f"/>
<polygon points="1654.8,270.4 1665.3,259.9 1675.8,270.4 1665.3,280.9" fill="#00f"/>
<rect x="1676.9" y="239.8" width="3.4" height="12.2" fill="#00f"/>
<rect x="1681.5" y="239.8" width="3.4" height="12.2" fill="#00f"/>
<rect x="1679.1" y="251.4" width="3.7" height="14.9" fill="#00f"/>
<polygon points="1670.4,270.4 1680.9,259.9 1691.4,270.4 1680.9,280.9" fill="#00f"/>
<rect x="1687.8" y="239.8" width="3.4" height="12.2" fill="#00f"/>
<rect x="1692.4" y="239.8" width="3.4" height="12.2" fill="#00f"/>
<rect x="1689.9" y="251.4" width="3.7" height="14.9" fill="#00f"/>
<polygon points="1681.3,270.4 1691.8,259.9 1702.3,270.4 1691.8,280.9" fill="#00f"/>
<rect x="1703.4" y="239.8" width="3.4" height="12.2" fill="#00f"/>
<rect x="1708" y="239.8" width="3.4" height="12.2" fill="#00f"/>
<rect x="1705.5" y="251.4" width="3.7" height="14.9" fill="#00f"/>
<polygon points="1696.9,270.4 1707.4,259.9 1717.9,270.4 1707.4,280.9" fill="#00f"/>
<rect x="1714.9" y="239.8" width="3.4" height="12.2" fill="#00f"/>
<rect x="1719.5" y="239.8" width="3.4" height="12.2" fill="#00f"/>
<rect x="1717.1" y="251.4" width="3.7" height="14.9" fill="#00f"/>
<polygon points="1708.4,270.4 1718.9,259.9 1729.4,270.4 1718.9,280.9" fill="#00f"/>
<rect x="1447.6" y="239.8" width="3.4" height="12.2" fill="#00f"/>
<rect x="1445.8" y="251.4" width="3.7" height="14.9" fill="#00f"/>
<polygon points="1437.1,270.4 1447.6,259.9 1458.1,270.4 1447.6,280.9" fill="#00f"/>
<rect x="1467.2" y="239.8" width="3.4" height="12.2" fill="#00f"/>
<rect x="1465.5" y="251.4" width="3.7" height="14.9" fill="#00f"/>
<polygon points="1456.8,270.4 1467.3,259.9 1477.8,270.4 1467.3,280.9" fill="#00f"/>
<rect x="1535.7" y="239.8" width="3.4" height="12.2" fill="#00f"/>
<rect x="1534" y="251.4" width="3.7" height="14.9" fill="#00f"/>
<polygon points="1525.3,270.4 1535.8,259.9 1546.3,270.4 1535.8,280.9" fill="#00f"/>
<rect x="1558.8" y="239.8" width="3.4" height="12.2" fill="#00f"/>
<rect x="1557" y="251.4" width="3.7" height="14.9" fill="#00f"/>
<polygon points="1548.3,270.4 1558.8,259.9 1569.3,270.4 1558.8,280.9" fill="#00f"/>
<polygon points="1750.2,271 1761.2,260 1772.2,271 1761.2,282" fill="#00f"/>
<polygon points="1758.3,271 1769.3,260 1780.3,271 1769.3,282" fill="#00f"/>
<polygon points="1769.2,271 1780.2,260 1791.2,271 1780.2,282" fill="#00f"/>
<rect x="1757.1" y="264.9" width="27.1" height="9.5" fill="#00f"/>
<polyline points="1783.6,239.8 1780.2,256.8 1779.5,267.7" fill="none" stroke-linejoin="round" stroke="#00f" stroke-width="3.9"/>
<rect x="1912.1" y="239.8" width="3.4" height="12.2" fill="#00f"/>
<rect x="1918.9" y="239.8" width="3.4" height="12.2" fill="#00f"/>
<rect x="1915.3" y="251.4" width="3.7" height="14.9" fill="#00f"/>
<polygon points="1906.7,270.4 1917.2,259.9 1927.7,270.4 1917.2,280.9" fill="#00f"/>
<rect x="1950.1" y="239.8" width="3.4" height="12.2" fill="#00f"/>
<rect x="1956.8" y="239.8" width="3.4" height="12.2" fill="#00f"/>
<rect x="1953.3" y="251.4" width="3.7" height="14.9" fill="#00f"/>
<polygon points="1944.6,270.4 1955.1,259.9 1965.6,270.4 1955.1,280.9" fill="#00f"/>
<rect x="1982.7" y="239.8" width="3.4" height="12.2" fill="#00f"/>
<rect x="1983.2" y="251.4" width="3.7" height="14.9" fill="#00f"/>
<polygon points="1974.5,270.4 1985,259.9 1995.5,270.4 1985,280.9" fill="#00f"/>
<polygon points="1979.8,75.4 1989.8,65.4 1999.8,75.4 1989.8,85.4" fill="#00f"/>
<polygon points="1979.8,113.7 1989.8,103.7 1999.8,113.7 1989.8,123.7" fill="#00f"/>
<polygon points="1979.8,193.7 1989.8,183.7 1999.8,193.7 1989.8,203.7" fill="#00f"/>
<polygon points="1979.8,312.1 1989.8,302.1 1999.8,312.1 1989.8,322.1" fill="#00f"/>
<polygon points="1979.8,349.9 1989.8,339.9 1999.8,349.9 1989.8,359.9" fill="#00f"/>
<rect x="1987.8" y="75.4" width="4" height="38.3" fill="#00f"/>
<polygon points="2052.1,75.4 2062.1,65.4 2072.1,75.4 2062.1,85.4" fill="#00f"/>
<polygon points="2052.1,193.7 2062.1,183.7 2072.1,193.7 2062.1,203.7" fill="#00f"/>
<polygon points="2052.1,312.1 2062.1,302.1 2072.1,312.1 2062.1,322.1" fill="#00f"/>
<polygon points="2052.1,349.9 2062.1,339.9 2072.1,349.9 2062.1,359.9" fill="#00f"/>
<polygon points="2052.1,388.9 2062.1,378.9 2072.1,388.9 2062.1,398.9" fill="#00f"/>
<polygon points="2125.8,231.5 2135.8,221.5 2145.8,231.5 2135.8,241.5" fill="#00f"/>
<polygon points="2125.8,270.5 2135.8,260.5 2145.8,270.5 2135.8,280.5" fill="#00f"/>
<polyline points="1952.5,240.3 1956.3,256.7 1956.3,270.5" fill="none" stroke-linejoin="round" stroke="#00f" stroke-width="3.9"/>
<polyline points="1960.1,240.3 1956.3,256.7 1956.3,270.5" fill="none" stroke-linejoin="round" stroke="#00f" stroke-width="3.9"/>
<polygon points="1946.3,270.5 1956.3,260.5 1966.3,270.5 1956.3,280.5" fill="#00f"/>
<polygon points="2022.1,193.7 2033.1,182.7 2044.1,193.7 2033.1,204.7" fill="#00f"/>
<polygon points="2049.8,193.7 2060.8,182.7 2071.8,193.7 2060.8,204.7" fill="#00f"/>
</g>
<g class="g">
<rect x="316.8" y="37" width="4.1" height="75.3" fill="#0f0"/>
<rect x="389.4" y="75.3" width="4.1" height="36.9" fill="#0f0"/>
<rect x="248.3" y="192.3" width="4.1" height="29.8" fill="#0f0"/>
<rect x="316.8" y="191.6" width="4.1" height="4.1" fill="#0f0"/>
<rect x="389.4" y="191.6" width="4.1" height="4.1" fill="#0f0"/>
<rect x="252.4" y="238.1" width="3.4" height="10.2" fill="#00f"/>
<rect x="260.5" y="238.1" width="2.7" height="10.2" fill="#0f0"/>
<rect x="268.7" y="238.1" width="2.7" height="10.2" fill="#0f0"/>
<rect x="276.1" y="238.1" width="2.7" height="10.2" fill="#0f0"/>
<rect x="247.6" y="264.5" width="4.1" height="7.5" fill="#0f0"/>
<rect x="256.4" y="264.5" width="3.4" height="7.5" fill="#0f0"/>
<rect x="263.9" y="265.9" width="2.7" height="3.4" fill="#0f0"/>
<rect x="271.4" y="267.2" width="3.4" height="3.4" fill="#0f0"/>
<rect x="278.8" y="264.5" width="3.4" height="3.4" fill="#0f0"/>
<rect x="251.7" y="264.5" width="4.7" height="7.5" fill="#00f"/>
<rect x="259.8" y="264.5" width="4.1" height="7.5" fill="#00f"/>
<rect x="266.6" y="264.5" width="4.7" height="7.5" fill="#00f"/>
<rect x="274.8" y="264.5" width="4.1" height="7.5" fill="#00f"/>
<rect x="286.3" y="240.8" width="4.1" height="8.1" fill="#0f0"/>
<rect x="290.4" y="264.5" width="3.4" height="7.5" fill="#0f0"/>
<rect x="293.7" y="242.1" width="4.1" height="6.8" fill="#f00"/>
<rect x="297.8" y="242.1" width="4.1" height="27.1" fill="#0f0"/>
<rect x="301.9" y="266.5" width="3.4" height="4.1" fill="#0f0"/>
<rect x="323.6" y="235.3" width="5.4" height="28.5" fill="#0f0"/>
<rect x="320.9" y="242.1" width="4.1" height="4.1" fill="#0f0"/>
<rect x="329" y="242.1" width="4.1" height="21.7" fill="#f00"/>
<rect x="335.8" y="242.1" width="4.1" height="21.7" fill="#f00"/>
<rect x="348" y="242.1" width="4.1" height="21.7" fill="#f00"/>
<rect x="352.1" y="238.1" width="4.1" height="10.9" fill="#0f0"/>
<rect x="358.8" y="264.5" width="4.1" height="7.5" fill="#0f0"/>
<rect x="394.1" y="235.3" width="6.8" height="31.2" fill="#0f0"/>
<rect x="411.7" y="235.3" width="8.1" height="33.9" fill="#0f0"/>
<rect x="438.9" y="242.1" width="8.1" height="27.1" fill="#f00"/>
<rect x="452.4" y="235.3" width="6.8" height="17.6" fill="#0f0"/>
<rect x="492.4" y="242.1" width="7.5" height="21.7" fill="#f00"/>
<rect x="508" y="235.3" width="3.4" height="35.3" fill="#0f0"/>
<rect x="538.1" y="233.7" width="12.2" height="36.6" fill="#0f0"/>
<rect x="591.7" y="233.7" width="7.5" height="36.6" fill="#0f0"/>
<rect x="599.2" y="241.9" width="4.1" height="25.8" fill="#f00"/>
<rect x="603.2" y="233.7" width="8.1" height="20.3" fill="#0f0"/>
<rect x="625.6" y="248.7" width="4.7" height="4.1" fill="#0f0"/>
<rect x="671.1" y="252.7" width="4.1" height="10.9" fill="#f00"/>
<rect x="675.1" y="229.7" width="4.1" height="38" fill="#0f0"/>
<rect x="683.3" y="241.9" width="4.1" height="29.8" fill="#0f0"/>
<rect x="687.3" y="241.9" width="3.4" height="25.8" fill="#f00"/>
<rect x="690.7" y="241.9" width="7.5" height="29.8" fill="#0f0"/>
<rect x="710.4" y="233.7" width="6.8" height="29.8" fill="#0f0"/>
<rect x="721.2" y="233.7" width="4.1" height="38" fill="#0f0"/>
<rect x="729.4" y="241.9" width="8.1" height="29.8" fill="#f00"/>
<rect x="790.4" y="252.7" width="3.4" height="10.9" fill="#f00"/>
<rect x="797.9" y="241.9" width="3.4" height="29.8" fill="#0f0"/>
<rect x="806.7" y="241.9" width="4.1" height="9.5" fill="#f00"/>
<rect x="810.8" y="237.8" width="5.4" height="33.9" fill="#0f0"/>
<rect x="816.2" y="233.7" width="12.2" height="38" fill="#0f0"/>
<rect x="835.4" y="237.8" width="4.1" height="8.1" fill="#0f0"/>
<rect x="847.6" y="233.7" width="4.1" height="38" fill="#0f0"/>
<rect x="851.7" y="252.7" width="7.5" height="19" fill="#0f0"/>
<rect x="874.8" y="241.9" width="4.1" height="12.2" fill="#f00"/>
<rect x="877.5" y="254.1" width="4.1" height="17.6" fill="#f00"/>
<rect x="882.2" y="241.9" width="4.1" height="9.5" fill="#f00"/>
<rect x="903.9" y="251.4" width="4.7" height="12.2" fill="#f00"/>
<rect x="954.1" y="252.7" width="4.1" height="10.9" fill="#f00"/>
<rect x="973.8" y="252.7" width="3.4" height="10.9" fill="#f00"/>
<rect x="981.2" y="252.7" width="3.4" height="10.9" fill="#f00"/>
<rect x="989.4" y="241.9" width="6.8" height="29.8" fill="#f00"/>
<rect x="984.6" y="237.8" width="4.7" height="33.9" fill="#0f0"/>
<rect x="996.1" y="233.7" width="4.7" height="38" fill="#0f0"/>
<rect x="1005" y="233.7" width="13.6" height="38" fill="#0f0"/>
<rect x="1019.2" y="264.9" width="3.4" height="6.8" fill="#0f0"/>
<rect x="1083.6" y="241.9" width="4.1" height="21.7" fill="#f00"/>
<rect x="1087.7" y="256.8" width="8.1" height="6.8" fill="#f00"/>
<rect x="1099.2" y="241.9" width="3.4" height="12.2" fill="#f00"/>
<rect x="1197.8" y="259.5" width="4.1" height="4.1" fill="#f00"/>
<rect x="1209.3" y="252.7" width="3.4" height="10.9" fill="#f00"/>
<rect x="1220.2" y="252.7" width="4.7" height="6.8" fill="#f00"/>
<rect x="1229" y="252.7" width="4.1" height="6.8" fill="#f00"/>
<rect x="1233.1" y="241.9" width="5.4" height="29.8" fill="#f00"/>
<rect x="1239.9" y="258.2" width="4.1" height="13.6" fill="#0f0"/>
<rect x="1243.9" y="233.7" width="4.1" height="38" fill="#0f0"/>
<rect x="1248" y="241.9" width="4.1" height="16.3" fill="#f00"/>
<rect x="1252.1" y="258.2" width="4.1" height="13.6" fill="#f00"/>
<rect x="1256.1" y="241.9" width="4.1" height="9.5" fill="#f00"/>
<rect x="1256.1" y="251.4" width="4.1" height="20.3" fill="#0f0"/>
<rect x="1260.2" y="250" width="4.1" height="4.1" fill="#0f0"/>
<rect x="1266.3" y="241.9" width="3.4" height="29.8" fill="#0f0"/>
<rect x="1274.4" y="233.7" width="14.2" height="33.9" fill="#0f0"/>
<rect x="1298.2" y="229.7" width="2.7" height="13.6" fill="#0f0"/>
<rect x="1305" y="241.9" width="4.1" height="4.1" fill="#0f0"/>
<rect x="1300.9" y="267.7" width="12.2" height="4.1" fill="#0f0"/>
<rect x="1319.9" y="237.8" width="4.1" height="33.9" fill="#0f0"/>
<rect x="1338.9" y="229.7" width="4.1" height="29.8" fill="#0f0"/>
<rect x="1352.4" y="233.7" width="4.1" height="20.3" fill="#0f0"/>
<rect x="1617.8" y="233.7" width="4.1" height="33.9" fill="#0f0"/>
<rect x="1621.9" y="233.7" width="3.4" height="4.1" fill="#0f0"/>
<rect x="1632.8" y="233.7" width="8.8" height="17.6" fill="#0f0"/>
<rect x="1645.7" y="233.7" width="4.1" height="31.2" fill="#0f0"/>
<rect x="1633.4" y="268.3" width="2.7" height="4.1" fill="#0f0"/>
<rect x="1655.1" y="246" width="8.1" height="25.8" fill="#0f0"/>
<rect x="1675.5" y="251.4" width="4.1" height="20.3" fill="#0f0"/>
<rect x="1683.6" y="251.4" width="4.1" height="20.3" fill="#0f0"/>
<rect x="1694.5" y="233.7" width="3.4" height="17.6" fill="#0f0"/>
<rect x="1668.7" y="233.7" width="4.1" height="9.5" fill="#0f0"/>
<rect x="1686.3" y="233.7" width="3.4" height="9.5" fill="#0f0"/>
<rect x="1709.4" y="233.7" width="8.1" height="17.6" fill="#0f0"/>
<rect x="1706.7" y="254.1" width="2.7" height="13.6" fill="#0f0"/>
<rect x="1721.6" y="237.8" width="4.1" height="13.6" fill="#0f0"/>
<rect x="1743.6" y="250" width="4.1" height="21.7" fill="#0f0"/>
<rect x="1743.6" y="268.3" width="6.8" height="4.1" fill="#0f0"/>
<rect x="1763.2" y="250" width="3.4" height="2.7" fill="#0f0"/>
<rect x="1759.2" y="268.3" width="3.4" height="4.1" fill="#0f0"/>
<rect x="2060.8" y="241.6" width="7.6" height="20.1" fill="#0f0"/>
<rect x="2075.9" y="241.6" width="12.6" height="30.2" fill="#0f0"/>
<rect x="1992.8" y="241.6" width="3.8" height="3" fill="#0f0"/>
<rect x="2000.4" y="241.6" width="3.8" height="3" fill="#0f0"/>
<rect x="2007.9" y="241.6" width="3.8" height="3" fill="#0f0"/>
<rect x="2015.5" y="241.6" width="3.8" height="3" fill="#0f0"/>
<rect x="1992.8" y="268" width="3.8" height="3" fill="#0f0"/>
<rect x="2000.4" y="268" width="3.8" height="3" fill="#0f0"/>
<rect x="2007.9" y="268" width="3.8" height="3" fill="#0f0"/>
<rect x="2015.5" y="268" width="3.8" height="3" fill="#0f0"/>
<rect x="2024.3" y="265.5" width="5" height="6.3" fill="#0f0"/>
<rect x="2030.6" y="196.3" width="3.8" height="25.2" fill="#0f0"/>
<rect x="1987.8" y="365" width="4" height="25.2" fill="#0f0"/>
<rect x="2060" y="36.9" width="4" height="38.5" fill="#0f0"/>
<rect x="2030.3" y="191.8" width="3.6" height="22.6" fill="#0f0"/>
<rect x="2033.9" y="214.4" width="3.2" height="8.1" fill="#0f0"/>
<rect x="2048.8" y="226.1" width="3.6" height="7.2" fill="#0f0"/>
<rect x="2029.8" y="225.7" width="3.6" height="3.6" fill="#0f0"/>
<rect x="2059.7" y="248.7" width="9" height="10.8" fill="#0f0"/>
<rect x="2063.3" y="234.2" width="5.4" height="14.5" fill="#0f0"/>
<rect x="2075.9" y="238.8" width="14.5" height="32.5" fill="#0f0"/>
<rect x="2098.6" y="230.6" width="7.2" height="2.3" fill="#0f0"/>
<rect x="2114.4" y="230.6" width="6.8" height="2.3" fill="#0f0"/>
<rect x="2132.9" y="259.6" width="3.6" height="10.8" fill="#0f0"/>
<rect x="2063.3" y="291.2" width="5.4" height="21.7" fill="#0f0"/>
</g>
<g class="m">
<rect x="316.8" y="59.3" width="4.1" height="6.8" fill="#00f"/>
<rect x="316.8" y="79.7" width="4.1" height="8.1" fill="#00f"/>
<rect x="389.4" y="79.7" width="4.1" height="12.2" fill="#00f"/>
<rect x="317.5" y="138" width="3.1" height="4.1" fill="#00f"/>
<rect x="390" y="138" width="3.1" height="4.1" fill="#00f"/>
<rect x="316.8" y="113.3" width="4.1" height="237.1" fill="#f0f"/>
<rect x="389.4" y="113.3" width="4" height="198.7" fill="#f0f"/>
<rect x="462" y="73.6" width="4" height="194.4" fill="#f0f"/>
<rect x="317" y="72" width="4" height="7" fill="#0f0"/>
<rect x="389.5" y="72" width="4" height="7" fill="#0f0"/>
<rect x="247.6" y="229.9" width="118" height="3.4" fill="#f0f"/>
<rect x="371.1" y="229.9" width="100.4" height="3.4" fill="#f0f"/>
<rect x="478.2" y="229.9" width="36.6" height="3.4" fill="#f0f"/>
<rect x="306" y="229.9" width="3.4" height="3.4" fill="#0f0"/>
<rect x="336.5" y="229.9" width="3.4" height="3.4" fill="#0f0"/>
<rect x="386" y="229.9" width="3.4" height="3.4" fill="#0f0"/>
<rect x="485" y="229.9" width="10.9" height="3.4" fill="#0f0"/>
<rect x="523" y="229.9" width="4.1" height="3.4" fill="#0f0"/>
<rect x="530" y="229.7" width="29.8" height="4.1" fill="#f0f"/>
<rect x="565.3" y="229.7" width="59.7" height="4.1" fill="#f0f"/>
<rect x="637.8" y="229.7" width="38" height="4.1" fill="#f0f"/>
<rect x="691.4" y="229.7" width="33.9" height="4.1" fill="#f0f"/>
<rect x="740.2" y="229.7" width="38" height="4.1" fill="#f0f"/>
<rect x="793.8" y="229.7" width="36.2" height="4.1" fill="#f0f"/>
<rect x="778.2" y="229.7" width="15.6" height="4.1" fill="#0f0"/>
<rect x="625.6" y="229.7" width="4.1" height="4.1" fill="#0f0"/>
<rect x="736.8" y="229.7" width="3.4" height="4.1" fill="#0f0"/>
<rect x="874.1" y="229.7" width="38" height="4.1" fill="#f0f"/>
<rect x="927.7" y="229.7" width="38" height="4.1" fill="#f0f"/>
<rect x="980.5" y="229.7" width="62.4" height="4.1" fill="#f0f"/>
<rect x="1060.6" y="229.7" width="15.6" height="4.1" fill="#f0f"/>
<rect x="1091.1" y="229.7" width="38.9" height="4.1" fill="#f0f"/>
<rect x="965.6" y="229.7" width="14.9" height="4.1" fill="#0f0"/>
<rect x="1045.7" y="229.7" width="3.4" height="4.1" fill="#0f0"/>
<rect x="1076.2" y="229.7" width="14.9" height="4.1" fill="#0f0"/>
<rect x="1144.9" y="229.7" width="37.3" height="4.1" fill="#f0f"/>
<rect x="1198.5" y="229.7" width="37.3" height="4.1" fill="#f0f"/>
<rect x="1252.1" y="229.7" width="44.8" height="4.1" fill="#f0f"/>
<rect x="1347" y="229.7" width="38" height="4.1" fill="#f0f"/>
<rect x="1400.6" y="229.7" width="29.4" height="4.1" fill="#f0f"/>
<rect x="1134.1" y="229.7" width="10.9" height="4.1" fill="#0f0"/>
<rect x="1186.3" y="229.7" width="4.1" height="4.1" fill="#0f0"/>
<rect x="1235.8" y="229.7" width="8.1" height="4.1" fill="#0f0"/>
<rect x="1430" y="229.7" width="8.1" height="4.1" fill="#f0f"/>
<rect x="1454.4" y="229.7" width="37.3" height="4.1" fill="#f0f"/>
<rect x="1507.3" y="229.7" width="38" height="4.1" fill="#f0f"/>
<rect x="1560.9" y="229.7" width="37.3" height="4.1" fill="#f0f"/>
<rect x="1614.5" y="229.7" width="38" height="4.1" fill="#f0f"/>
<rect x="1666" y="229.7" width="54.3" height="4.1" fill="#f0f"/>
<rect x="1491.7" y="229.7" width="15.6" height="4.1" fill="#0f0"/>
<rect x="1545.3" y="229.7" width="15.6" height="4.1" fill="#0f0"/>
<rect x="1598.9" y="229.7" width="3.4" height="4.1" fill="#0f0"/>
<rect x="1652.4" y="229.7" width="2.7" height="4.1" fill="#0f0"/>
<rect x="1720.2" y="229.7" width="9.8" height="4.1" fill="#0f0"/>
<rect x="1739.5" y="232.4" width="4.1" height="31.2" fill="#f0f"/>
<rect x="1755.1" y="240.5" width="4.1" height="31.2" fill="#f0f"/>
<rect x="1736.8" y="229.7" width="6.8" height="4.1" fill="#f0f"/>
<rect x="1765.3" y="229.7" width="38.7" height="4.1" fill="#f0f"/>
<rect x="1820.9" y="229.7" width="36.6" height="4.1" fill="#f0f"/>
<rect x="1873.1" y="229.7" width="38" height="4.1" fill="#f0f"/>
<rect x="1926.7" y="229.7" width="38" height="4.1" fill="#f0f"/>
<rect x="1980.9" y="229.7" width="6.8" height="4.1" fill="#f0f"/>
<rect x="1743.6" y="229.7" width="3.4" height="4.1" fill="#0f0"/>
<rect x="1857.5" y="229.7" width="15.6" height="4.1" fill="#0f0"/>
<rect x="1911.1" y="229.7" width="15.6" height="4.1" fill="#0f0"/>
<rect x="1816.8" y="229.7" width="3.4" height="4.1" fill="#0f0"/>
<rect x="1763.2" y="229.7" width="3.4" height="4.1" fill="#0f0"/>
<rect x="1987.8" y="113.7" width="4" height="251.3" fill="#f0f"/>
<rect x="1987.8" y="163.5" width="4" height="7.6" fill="#0f0"/>
<rect x="1987.8" y="213.9" width="4" height="5" fill="#0f0"/>
<rect x="1987.8" y="317.1" width="4" height="12.6" fill="#0f0"/>
<rect x="1987.8" y="111.9" width="4" height="3.8" fill="#0f0"/>
<rect x="2060" y="75.4" width="4" height="313.5" fill="#f0f"/>
<rect x="2060" y="100.6" width="4" height="3.8" fill="#0f0"/>
<rect x="2060" y="153.5" width="4" height="3.8" fill="#0f0"/>
<rect x="2060.8" y="297" width="7.6" height="15.1" fill="#0f0"/>
<rect x="2060" y="357.4" width="4" height="7.6" fill="#0f0"/>
<rect x="2060" y="279.4" width="4" height="7.6" fill="#0f0"/>
</g>
</g>
<rect x="246.6" y="629" width="2037" height="392" fill="none" stroke="#000" stroke-width="4.2"/>
<text transform="translate(244.8,1080.4) scale(0.98,1.06)" font-size="50.5" text-anchor="middle">0</text>
<line x1="536" y1="1021" x2="536" y2="997.5" stroke="#000" stroke-width="4.2"/>
<line x1="536" y1="629" x2="536" y2="652.5" stroke="#000" stroke-width="4.2"/>
<text transform="translate(534.2,1080.4) scale(0.98,1.06)" font-size="50.5" text-anchor="middle">0.05</text>
<line x1="826.3" y1="1021" x2="826.3" y2="997.5" stroke="#000" stroke-width="4.2"/>
<line x1="826.3" y1="629" x2="826.3" y2="652.5" stroke="#000" stroke-width="4.2"/>
<text transform="translate(824.5,1080.4) scale(0.98,1.06)" font-size="50.5" text-anchor="middle">0.1</text>
<line x1="1116.2" y1="1021" x2="1116.2" y2="997.5" stroke="#000" stroke-width="4.2"/>
<line x1="1116.2" y1="629" x2="1116.2" y2="652.5" stroke="#000" stroke-width="4.2"/>
<text transform="translate(1114.4,1080.4) scale(0.98,1.06)" font-size="50.5" text-anchor="middle">0.15</text>
<line x1="1409.8" y1="1021" x2="1409.8" y2="997.5" stroke="#000" stroke-width="4.2"/>
<line x1="1409.8" y1="629" x2="1409.8" y2="652.5" stroke="#000" stroke-width="4.2"/>
<text transform="translate(1408,1080.4) scale(0.98,1.06)" font-size="50.5" text-anchor="middle">0.2</text>
<line x1="1699.7" y1="1021" x2="1699.7" y2="997.5" stroke="#000" stroke-width="4.2"/>
<line x1="1699.7" y1="629" x2="1699.7" y2="652.5" stroke="#000" stroke-width="4.2"/>
<text transform="translate(1697.9,1080.4) scale(0.98,1.06)" font-size="50.5" text-anchor="middle">0.25</text>
<line x1="1989.7" y1="1021" x2="1989.7" y2="997.5" stroke="#000" stroke-width="4.2"/>
<line x1="1989.7" y1="629" x2="1989.7" y2="652.5" stroke="#000" stroke-width="4.2"/>
<text transform="translate(1987.9,1080.4) scale(0.98,1.06)" font-size="50.5" text-anchor="middle">0.3</text>
<text transform="translate(2281.8,1080.4) scale(0.98,1.06)" font-size="50.5" text-anchor="middle">0.35</text>
<text transform="translate(227.5,646) scale(0.98,1.06)" font-size="50.5" text-anchor="end">2</text>
<line x1="246.6" y1="758.5" x2="270.1" y2="758.5" stroke="#000" stroke-width="4.2"/>
<line x1="2283.6" y1="758.5" x2="2260.1" y2="758.5" stroke="#000" stroke-width="4.2"/>
<text transform="translate(227.5,775.5) scale(0.98,1.06)" font-size="50.5" text-anchor="end">0</text>
<line x1="246.6" y1="888" x2="270.1" y2="888" stroke="#000" stroke-width="4.2"/>
<line x1="2283.6" y1="888" x2="2260.1" y2="888" stroke="#000" stroke-width="4.2"/>
<text transform="translate(227.5,905) scale(0.98,1.06)" font-size="50.5" text-anchor="end">-2</text>
<text transform="translate(227.5,1038) scale(0.98,1.06)" font-size="50.5" text-anchor="end">-4</text>
<g id="ax2">
<line x1="247" y1="758.4" x2="2137" y2="758.4" stroke="#00f" stroke-width="19.4"/>
<polygon points="236,758.4 247,747.4 258,758.4 247,769.4" fill="#00f"/>
<polygon points="2126,758.4 2137,747.4 2148,758.4 2137,769.4" fill="#00f"/>
<polygon points="1722,747.9 1728,747.9 1725,752.4" fill="#fff"/>
<polygon points="1722,768.9 1728,768.9 1725,764.4" fill="#fff"/>
<polygon points="1773,747.9 1779,747.9 1776,752.4" fill="#fff"/>
<polygon points="1773,768.9 1779,768.9 1776,764.4" fill="#fff"/>
<polygon points="1799,747.9 1805,747.9 1802,752.4" fill="#fff"/>
<polygon points="1799,768.9 1805,768.9 1802,764.4" fill="#fff"/>
<polygon points="1823.5,747.9 1829.5,747.9 1826.5,752.4" fill="#fff"/>
<polygon points="1823.5,768.9 1829.5,768.9 1826.5,764.4" fill="#fff"/>
<polygon points="1849,747.9 1855,747.9 1852,752.4" fill="#fff"/>
<polygon points="1849,768.9 1855,768.9 1852,764.4" fill="#fff"/>
<polygon points="1875,747.9 1881,747.9 1878,752.4" fill="#fff"/>
<polygon points="1875,768.9 1881,768.9 1878,764.4" fill="#fff"/>
<polygon points="1898.5,747.9 1904.5,747.9 1901.5,752.4" fill="#fff"/>
<polygon points="1898.5,768.9 1904.5,768.9 1901.5,764.4" fill="#fff"/>
<polygon points="1922,747.9 1928,747.9 1925,752.4" fill="#fff"/>
<polygon points="1922,768.9 1928,768.9 1925,764.4" fill="#fff"/>
<polygon points="1945.5,747.9 1951.5,747.9 1948.5,752.4" fill="#fff"/>
<polygon points="1945.5,768.9 1951.5,768.9 1948.5,764.4" fill="#fff"/>
<polygon points="1967,747.9 1973,747.9 1970,752.4" fill="#fff"/>
<polygon points="1967,768.9 1973,768.9 1970,764.4" fill="#fff"/>
<polygon points="386,752.4 391,743.4 396,752.4 391,761.4" fill="#00f"/>
<polygon points="518.6,724.1 528.6,717.6 538.6,724.1 528.6,730.6" fill="#00f"/>
<polygon points="518.6,792.3 528.6,785.8 538.6,792.3 528.6,798.8" fill="#00f"/>
<polygon points="515.8,748.7 528.3,739.2 540.8,748.7 528.3,758.2" fill="#00f"/>
<polygon points="515.9,772.2 526.4,763.2 536.9,772.2 526.4,781.2" fill="#00f"/>
<line x1="247" y1="758.4" x2="2137" y2="758.4" stroke="#0f0" stroke-width="4.4" stroke-dasharray="6 47.7" stroke-dashoffset="-49.7"/>
<line x1="391" y1="745" x2="391" y2="775" stroke="#0f0" stroke-width="4.4"/>
<line x1="528.6" y1="706.8" x2="528.6" y2="805.8" stroke="#0f0" stroke-width="4.4"/>
<line x1="525.3" y1="805.8" x2="525.3" y2="843.5" stroke="#0f0" stroke-width="4.4"/>
<line x1="527.3" y1="805.8" x2="527.3" y2="815.8" stroke="#0f0" stroke-width="7.5"/>
<line x1="528.6" y1="851.9" x2="528.6" y2="915.7" stroke="#0f0" stroke-width="4.4"/>
<line x1="528.6" y1="924.1" x2="528.6" y2="957.6" stroke="#0f0" stroke-width="4.4"/>
<line x1="525.3" y1="834.3" x2="531.1" y2="834.3" stroke="#0f0" stroke-width="3.4"/>
<line x1="522.8" y1="861.1" x2="528.6" y2="861.1" stroke="#0f0" stroke-width="3.4"/>
<line x1="511.8" y1="758.3" x2="521.9" y2="758.3" stroke="#0f0" stroke-width="3.4"/>
<line x1="523.6" y1="762.1" x2="530.3" y2="762.1" stroke="#0f0" stroke-width="3.4"/>
<line x1="247" y1="758.4" x2="2137" y2="758.4" stroke="#f0f" stroke-width="4.4" stroke-dasharray="37.8 15.9" stroke-dashoffset="41.4"/>
</g>
<text transform="translate(247,602.8) scale(0.98,1.06)" font-size="50.5" text-anchor="start">x 10</text>
<text transform="translate(339,554) scale(0.98,1.06)" font-size="37" text-anchor="start">6</text>
<rect x="246.6" y="1217" width="2037" height="392" fill="none" stroke="#000" stroke-width="4.2"/>
<text transform="translate(244.8,1668.3) scale(0.98,1.06)" font-size="50.5" text-anchor="middle">0</text>
<line x1="536" y1="1609" x2="536" y2="1585.5" stroke="#000" stroke-width="4.2"/>
<line x1="536" y1="1217" x2="536" y2="1240.5" stroke="#000" stroke-width="4.2"/>
<text transform="translate(534.2,1668.3) scale(0.98,1.06)" font-size="50.5" text-anchor="middle">0.05</text>
<line x1="826.3" y1="1609" x2="826.3" y2="1585.5" stroke="#000" stroke-width="4.2"/>
<line x1="826.3" y1="1217" x2="826.3" y2="1240.5" stroke="#000" stroke-width="4.2"/>
<text transform="translate(824.5,1668.3) scale(0.98,1.06)" font-size="50.5" text-anchor="middle">0.1</text>
<line x1="1116.2" y1="1609" x2="1116.2" y2="1585.5" stroke="#000" stroke-width="4.2"/>
<line x1="1116.2" y1="1217" x2="1116.2" y2="1240.5" stroke="#000" stroke-width="4.2"/>
<text transform="translate(1114.4,1668.3) scale(0.98,1.06)" font-size="50.5" text-anchor="middle">0.15</text>
<line x1="1409.8" y1="1609" x2="1409.8" y2="1585.5" stroke="#000" stroke-width="4.2"/>
<line x1="1409.8" y1="1217" x2="1409.8" y2="1240.5" stroke="#000" stroke-width="4.2"/>
<text transform="translate(1408,1668.3) scale(0.98,1.06)" font-size="50.5" text-anchor="middle">0.2</text>
<line x1="1699.7" y1="1609" x2="1699.7" y2="1585.5" stroke="#000" stroke-width="4.2"/>
<line x1="1699.7" y1="1217" x2="1699.7" y2="1240.5" stroke="#000" stroke-width="4.2"/>
<text transform="translate(1697.9,1668.3) scale(0.98,1.06)" font-size="50.5" text-anchor="middle">0.25</text>
<line x1="1989.7" y1="1609" x2="1989.7" y2="1585.5" stroke="#000" stroke-width="4.2"/>
<line x1="1989.7" y1="1217" x2="1989.7" y2="1240.5" stroke="#000" stroke-width="4.2"/>
<text transform="translate(1987.9,1668.3) scale(0.98,1.06)" font-size="50.5" text-anchor="middle">0.3</text>
<text transform="translate(2281.8,1668.3) scale(0.98,1.06)" font-size="50.5" text-anchor="middle">0.35</text>
<text transform="translate(227.5,1234) scale(0.98,1.06)" font-size="50.5" text-anchor="end">0.02</text>
<line x1="246.6" y1="1346" x2="270.1" y2="1346" stroke="#000" stroke-width="4.2"/>
<line x1="2283.6" y1="1346" x2="2260.1" y2="1346" stroke="#000" stroke-width="4.2"/>
<text transform="translate(227.5,1363) scale(0.98,1.06)" font-size="50.5" text-anchor="end">0.01</text>
<line x1="246.6" y1="1475" x2="270.1" y2="1475" stroke="#000" stroke-width="4.2"/>
<line x1="2283.6" y1="1475" x2="2260.1" y2="1475" stroke="#000" stroke-width="4.2"/>
<text transform="translate(227.5,1492) scale(0.98,1.06)" font-size="50.5" text-anchor="end">0</text>
<text transform="translate(227.5,1626) scale(0.98,1.06)" font-size="50.5" text-anchor="end">-0.01</text>
<g id="ax3">
<polyline points="247,1473 247.5,1458 249.4,1447.5 258.7,1431 269,1414.3 281.6,1397.6 300.3,1380 318,1364.4 344,1349.8 373,1337.3 398,1324.9 423,1319.7 450,1316.5 481.2,1312.4 527,1308.2 593.5,1307.2 630,1307 641.3,1304 683,1303.6 1158,1303.6 1165,1299.5 2000,1299.5 2013,1303.5 2026,1300 2050,1285 2074,1272.8 2090,1269 2105,1266.6 2120,1264 2137,1264" fill="none" stroke-linejoin="round" stroke="#00f" stroke-width="19.5" stroke-linejoin="round"/>
<polygon points="236,1472 247,1459 258,1472 247,1485" fill="#00f"/>
<polygon points="2126,1264 2137,1253 2148,1264 2137,1275" fill="#00f"/>
<polygon points="1722,1289 1728,1289 1725,1293.5" fill="#fff"/>
<polygon points="1722,1310 1728,1310 1725,1305.5" fill="#fff"/>
<polygon points="1773,1289 1779,1289 1776,1293.5" fill="#fff"/>
<polygon points="1773,1310 1779,1310 1776,1305.5" fill="#fff"/>
<polygon points="1799,1289 1805,1289 1802,1293.5" fill="#fff"/>
<polygon points="1799,1310 1805,1310 1802,1305.5" fill="#fff"/>
<polygon points="1823.5,1289 1829.5,1289 1826.5,1293.5" fill="#fff"/>
<polygon points="1823.5,1310 1829.5,1310 1826.5,1305.5" fill="#fff"/>
<polygon points="1849,1289 1855,1289 1852,1293.5" fill="#fff"/>
<polygon points="1849,1310 1855,1310 1852,1305.5" fill="#fff"/>
<polygon points="1875,1289 1881,1289 1878,1293.5" fill="#fff"/>
<polygon points="1875,1310 1881,1310 1878,1305.5" fill="#fff"/>
<polygon points="1898.5,1289 1904.5,1289 1901.5,1293.5" fill="#fff"/>
<polygon points="1898.5,1310 1904.5,1310 1901.5,1305.5" fill="#fff"/>
<polygon points="1922,1289 1928,1289 1925,1293.5" fill="#fff"/>
<polygon points="1922,1310 1928,1310 1925,1305.5" fill="#fff"/>
<polygon points="1945.5,1289 1951.5,1289 1948.5,1293.5" fill="#fff"/>
<polygon points="1945.5,1310 1951.5,1310 1948.5,1305.5" fill="#fff"/>
<polygon points="1967,1289 1973,1289 1970,1293.5" fill="#fff"/>
<polygon points="1967,1310 1973,1310 1970,1305.5" fill="#fff"/>
<polyline points="247,1473 247.5,1458 249.4,1447.5 258.7,1431 269,1414.3 281.6,1397.6 300.3,1380 318,1364.4 344,1349.8 373,1337.3 398,1324.9 423,1319.7 450,1316.5 481.2,1312.4 527,1308.2 593.5,1307.2 630,1307 641.3,1304 683,1303.6 1158,1303.6 1165,1299.5 2000,1299.5 2013,1303.5 2026,1300 2050,1285 2074,1272.8 2090,1269 2105,1266.6 2120,1264 2137,1264" fill="none" stroke-linejoin="round" stroke="#0f0" stroke-width="4.4" stroke-dasharray="6 47.7" stroke-dashoffset="-49.7"/>
<polyline points="247,1473 247.5,1458 249.4,1447.5 258.7,1431 269,1414.3 281.6,1397.6 300.3,1380 318,1364.4 344,1349.8 373,1337.3 398,1324.9 423,1319.7 450,1316.5 481.2,1312.4 527,1308.2 593.5,1307.2 630,1307 641.3,1304 683,1303.6 1158,1303.6 1165,1299.5 2000,1299.5 2013,1303.5 2026,1300 2050,1285 2074,1272.8 2090,1269 2105,1266.6 2120,1264 2137,1264" fill="none" stroke-linejoin="round" stroke="#f0f" stroke-width="4.4" stroke-dasharray="37.8 15.9" stroke-dashoffset="41.4"/>
</g>
<text transform="translate(1258.5,1751.5) scale(1.02,1.06)" font-size="59" text-anchor="middle" class="big">Time (days)</text>
<text class="big" transform="translate(149.4,231.5) rotate(-90) scale(1.03,1.10)" font-size="59" text-anchor="middle">NL. Iter</text>
<text class="big" transform="translate(159.8,827) rotate(-90) scale(1.04,1.10)" font-size="59" text-anchor="middle">MBE (m<tspan font-size="45" dy="-38">3</tspan><tspan dy="38">)</tspan></text>
<text class="big" transform="translate(90.6,1413.5) rotate(-90) scale(1.03,1.10)" font-size="59" text-anchor="middle">Cum. MBE (m<tspan font-size="45" dy="-38">3</tspan><tspan dy="38">)</tspan></text>
<rect x="685" y="1120.6" width="370.3" height="450.1" fill="#fff" stroke="#000" stroke-width="4.2"/>
<line x1="713.4" y1="1170" x2="871" y2="1170" stroke="#000" stroke-width="4.2"/>
<line x1="713.4" y1="1257.6" x2="871" y2="1257.6" stroke="#f00" stroke-width="4.2"/>
<line x1="713.4" y1="1345.4" x2="871" y2="1345.4" stroke="#00f" stroke-width="4.2"/>
<polygon points="785,1345.4 792,1334.9 799,1345.4 792,1355.9" fill="#00f"/>
<line x1="713.4" y1="1429.5" x2="871" y2="1429.5" stroke="#0f0" stroke-width="4.2" stroke-dasharray="38 15 5 15"/>
<line x1="728.7" y1="1517.2" x2="871" y2="1517.2" stroke="#f0f" stroke-width="4.2" stroke-dasharray="37 16.5"/>
<text transform="translate(886.5,1197.6) scale(0.94,1.06)" font-size="50.5">10<tspan font-size="42" dx="0" dy="-29.5">-3</tspan><tspan dx="19" dy="29.5">m</tspan></text>
<text transform="translate(886.5,1285.7) scale(0.94,1.06)" font-size="50.5">10<tspan font-size="42" dx="0" dy="-29.5">-3</tspan><tspan dx="19" dy="29.5">m</tspan></text>
<text transform="translate(886.5,1372.9) scale(0.94,1.06)" font-size="50.5">10<tspan font-size="42" dx="0" dy="-29.5">-4</tspan><tspan dx="19" dy="29.5">m</tspan></text>
<text transform="translate(886.5,1457) scale(0.94,1.06)" font-size="50.5">10<tspan font-size="42" dx="0" dy="-29.5">-5</tspan><tspan dx="19" dy="29.5">m</tspan></text>
<text transform="translate(886.5,1544.7) scale(0.94,1.06)" font-size="50.5">10<tspan font-size="42" dx="0" dy="-29.5">-6</tspan><tspan dx="19" dy="29.5">m</tspan></text>
</svg>
</body></html>
